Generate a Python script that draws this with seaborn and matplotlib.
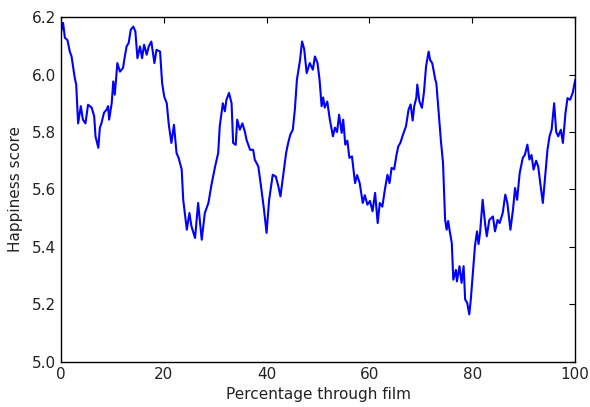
import matplotlib
matplotlib.use("Agg")
import matplotlib.pyplot as plt
import seaborn as sns
import pandas as pd

# values
pct = [0.0, 0.45, 0.8, 1.3, 1.75, 2.1, 2.7, 3.0, 3.37, 3.9, 4.3, 4.8, 5.3, 6.0, 6.5,
       6.75, 7.3, 7.6, 7.9, 8.4, 8.9, 9.2, 9.4, 9.9, 10.2, 10.5, 11.0, 11.5, 12.1, 12.45,
       12.8, 13.2, 13.6, 14.1, 14.5, 14.9, 15.4, 15.8, 16.2, 16.7, 17.1, 17.6, 18.2, 18.6,
       19.3, 19.7, 20.1, 20.6, 21.0, 21.5, 22.0, 22.5, 22.9, 23.5, 23.8, 24.5, 25.0, 25.4,
       26.1, 26.7, 27.4, 28.0, 28.7, 29.3, 30.0, 30.6, 30.9, 31.5, 31.9, 32.2, 32.7, 33.2,
       33.5, 34.0, 34.3, 34.8, 35.3, 35.8, 36.1, 36.8, 37.4, 37.7, 38.4, 39.0, 39.5, 40.0,
       40.5, 41.2, 41.8, 42.3, 42.7, 43.2, 43.8, 44.2, 44.6, 45.1, 45.5, 45.9, 46.1, 46.5,
       46.9, 47.3, 47.8, 48.4, 49.0, 49.4, 49.9, 50.3, 50.7, 51.0, 51.3, 51.8, 52.3, 52.9,
       53.3, 53.7, 54.1, 54.6, 54.9, 55.3, 55.7, 56.1, 56.6, 56.9, 57.2, 57.6, 58.1, 58.7,
       59.1, 59.6, 60.1, 60.6, 61.1, 61.6, 62.0, 62.5, 63.0, 63.5, 63.9, 64.3, 64.8, 65.2,
       65.6, 66.0, 66.5, 67.1, 67.6, 68.0, 68.4, 68.7, 69.1, 69.3, 69.7, 70.2, 70.6, 71.0,
       71.5, 71.8, 72.2, 72.8, 73.0, 73.4, 73.9, 74.3, 74.7, 75.0, 75.3, 75.6, 76.0, 76.3,
       76.8, 77.0, 77.5, 77.9, 78.3, 78.6, 79.0, 79.4, 79.7, 80.1, 80.5, 80.9, 81.2, 81.5,
       82.0, 82.5, 82.8, 83.3, 84.0, 84.4, 84.9, 85.3, 85.9, 86.4, 86.8, 87.4, 87.9, 88.3,
       88.7, 89.2, 89.8, 90.2, 90.7, 91.1, 91.5, 91.9, 92.4, 92.8, 93.2, 93.7, 94.2, 94.6,
       95.0, 95.4, 95.9, 96.3, 96.7, 97.2, 97.6, 98.1, 98.5, 99.0, 99.5, 100.0]
score = [6.144, 6.18, 6.128, 6.12, 6.08, 6.063, 5.99, 5.965, 5.83, 5.89, 5.843, 5.83, 5.895, 5.885, 5.854,
         5.785, 5.745, 5.815, 5.83, 5.867, 5.878, 5.89, 5.843, 5.9, 5.976, 5.93, 6.04, 6.01, 6.023, 6.063,
         6.098, 6.11, 6.156, 6.167, 6.15, 6.057, 6.098, 6.057, 6.104, 6.069, 6.098, 6.115, 6.04, 6.086,
         6.08, 5.97, 5.924, 5.9, 5.825, 5.762, 5.825, 5.727, 5.71, 5.67, 5.564, 5.46, 5.518, 5.472,
         5.431, 5.553, 5.425, 5.518, 5.553, 5.617, 5.68, 5.727, 5.82, 5.9, 5.872, 5.912, 5.936, 5.9,
         5.762, 5.755, 5.843, 5.808, 5.83, 5.8, 5.773, 5.738, 5.738, 5.704, 5.68, 5.6, 5.53, 5.449,
         5.564, 5.651, 5.645, 5.61, 5.576, 5.645, 5.727, 5.762, 5.79, 5.808, 5.878, 5.982, 6.005, 6.05,
         6.115, 6.09, 6.005, 6.04, 6.017, 6.063, 6.04, 5.982, 5.89, 5.92, 5.885, 5.906, 5.843, 5.785,
         5.815, 5.8, 5.86, 5.797, 5.843, 5.756, 5.77, 5.71, 5.715, 5.669, 5.622, 5.65, 5.622, 5.553,
         5.58, 5.547, 5.56, 5.524, 5.588, 5.483, 5.553, 5.54, 5.6, 5.651, 5.622, 5.675, 5.67, 5.715,
         5.75, 5.762, 5.79, 5.82, 5.878, 5.896, 5.84, 5.89, 5.918, 5.965, 5.907, 5.884, 5.94, 6.028,
         6.08, 6.05, 6.04, 5.982, 5.97, 5.878, 5.767, 5.692, 5.495, 5.46, 5.49, 5.455, 5.414, 5.286,
         5.32, 5.28, 5.333, 5.275, 5.333, 5.217, 5.205, 5.165, 5.217, 5.31, 5.402, 5.454, 5.41, 5.45,
         5.564, 5.477, 5.437, 5.494, 5.506, 5.454, 5.494, 5.483, 5.518, 5.582, 5.553, 5.46, 5.53, 5.605,
         5.564, 5.657, 5.71, 5.72, 5.756, 5.704, 5.72, 5.669, 5.70, 5.68, 5.622, 5.553, 5.657, 5.738,
         5.785, 5.808, 5.90, 5.80, 5.785, 5.808, 5.762, 5.866, 5.918, 5.912, 5.936, 5.982]

df = pd.DataFrame({"pct": pct, "score": score})

sns.set_style("white")
plt.rcParams["font.family"] = ["DejaVu Sans"]
plt.rcParams.update({
    "xtick.direction": "in", "ytick.direction": "in",
    "xtick.top": True, "ytick.right": True,
    "axes.edgecolor": "black", "axes.linewidth": 1.0,
})

fig = plt.figure(figsize=(5.9, 4.07), dpi=100)
ax = fig.add_axes([0.103, 0.111, 0.872, 0.847])
sns.lineplot(data=df, x="pct", y="score", color="blue", linewidth=1.5, ax=ax)

ax.set_xlim(0, 100)
ax.set_ylim(5.0, 6.2)
ax.set_xticks([0, 20, 40, 60, 80, 100])
ax.set_yticks([5.0, 5.2, 5.4, 5.6, 5.8, 6.0, 6.2])
ax.tick_params(labelsize=11, length=4, width=0.8, colors="black", labelcolor="#222222")
ax.set_xlabel("Percentage through film", fontsize=11, color="#222222")
ax.set_ylabel("Happiness score", fontsize=11, color="#222222", labelpad=6)

fig.savefig("out.png", dpi=100)
